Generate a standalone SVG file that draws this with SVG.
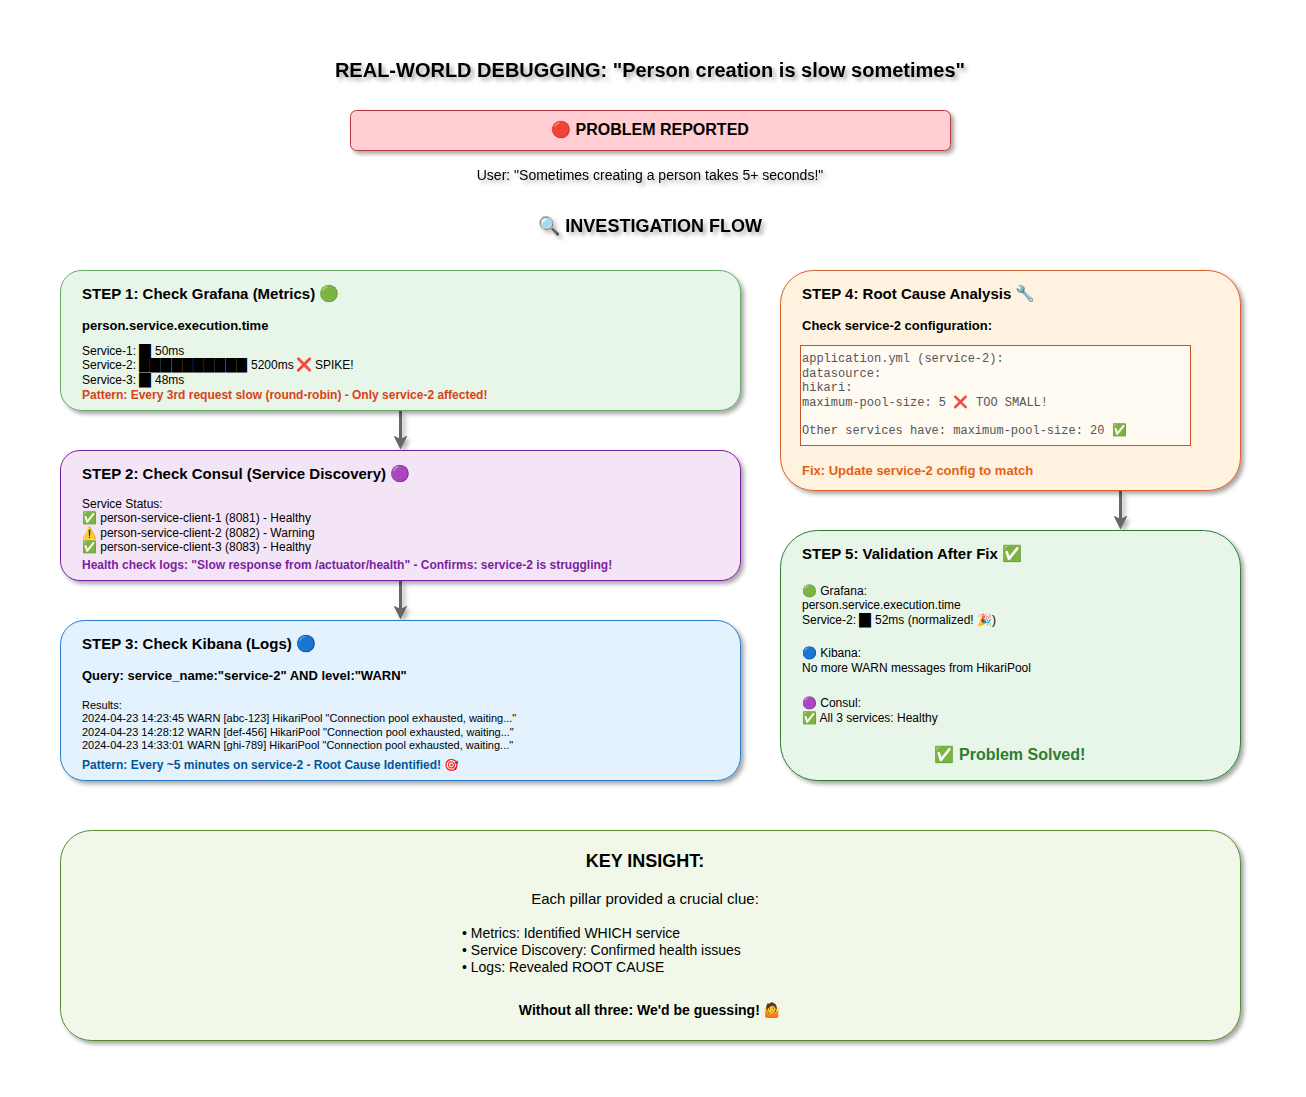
<svg xmlns="http://www.w3.org/2000/svg" width="1306" height="1097" viewBox="0 0 1306 1097">
<defs>
<filter id="sh" x="-5%" y="-10%" width="112%" height="125%"><feDropShadow dx="3" dy="3" stdDeviation="2" flood-color="#000" flood-opacity="0.35"/></filter>
<filter id="ts" x="-5%" y="-50%" width="110%" height="220%"><feDropShadow dx="3" dy="3" stdDeviation="2" flood-color="#000" flood-opacity="0.35"/></filter>
<filter id="cs" filterUnits="userSpaceOnUse" x="0" y="0" width="1306" height="1097"><feDropShadow dx="3" dy="3" stdDeviation="2" flood-color="#000" flood-opacity="0.3"/></filter>
<marker id="ah" viewBox="0 0 14 14" refX="3.5" refY="7" markerWidth="14" markerHeight="14" markerUnits="userSpaceOnUse" orient="auto"><path d="M0 0L14 7L0 14L3.500 7Z" fill="#666"/></marker>
</defs>
<style>
text{font-family:"Liberation Sans",Arial,"Noto Color Emoji",sans-serif;fill:#000}
.b{font-weight:bold}
.t{font-size:15px;font-weight:bold}
.e{font-size:16px}
.e2{font-size:13px}
.h{font-size:13px;font-weight:bold}
.s{font-size:12px}
.r{font-size:11px}
.m{font-family:"Liberation Mono","Courier New",monospace,"Noto Color Emoji";font-size:12px;fill:#555}
.c{text-anchor:middle}
.k{font-size:14px}
.card{filter:url(#sh);stroke-width:1}
.conn{stroke:#666;stroke-width:3;fill:none;marker-end:url(#ah)}
</style>
<rect width="1306" height="1097" fill="#fff"/>
<g id="header">
<text x="650" y="77" class="c b" font-size="20" filter="url(#ts)">REAL-WORLD DEBUGGING: "Person creation is slow sometimes"</text>
<text x="650" y="180" class="c k" filter="url(#ts)">User: "Sometimes creating a person takes 5+ seconds!"</text>
<text x="650" y="232" class="c b" font-size="18" filter="url(#ts)">🔍 INVESTIGATION FLOW</text>
</g>
<g id="problem">
<rect class="card" x="350.500" y="110.500" width="600" height="40" rx="6" fill="#ffcdd2" stroke="#b5383c"/>
<text x="650" y="135" class="c" font-size="16" font-weight="bold">🔴 PROBLEM REPORTED</text>
</g>
<g id="connectors" filter="url(#cs)">
<path class="conn" d="M400.500 411V439"/>
<path class="conn" d="M400.500 581V609"/>
<path class="conn" d="M1120.500 491V519"/>
</g>
<g id="step1">
<rect class="card" x="60.500" y="270.500" width="680" height="140" rx="21" fill="#e8f5e9" stroke="#66aa66"/>
<text x="82" y="299" class="t">STEP 1: Check Grafana (Metrics) <tspan class="e" x="319">🟢</tspan></text>
<text x="82" y="330" class="h">person.service.execution.time</text>
<text x="82" y="355" class="s">Service-1:</text>
<text x="139" y="355" class="s" textLength="12" lengthAdjust="spacingAndGlyphs">█</text>
<text x="155" y="355" class="s">50ms</text>
<text x="82" y="369" class="s">Service-2:</text>
<text x="139" y="369" class="s" textLength="108" lengthAdjust="spacingAndGlyphs">██████████</text>
<text x="251" y="369" class="s">5200ms<tspan class="e2" x="296.500">❌</tspan><tspan x="315">SPIKE!</tspan></text>
<text x="82" y="384" class="s">Service-3:</text>
<text x="139" y="384" class="s" textLength="12" lengthAdjust="spacingAndGlyphs">█</text>
<text x="155" y="384" class="s">48ms</text>
<text x="82" y="399" class="s b" style="fill:#d84315">Pattern: Every 3rd request slow (round-robin) - Only service-2 affected!</text>
</g>
<g id="step2">
<rect class="card" x="60.500" y="450.500" width="680" height="130" rx="19.500" fill="#f3e5f5" stroke="#7b1fa2"/>
<text x="82" y="479" class="t">STEP 2: Check Consul (Service Discovery) <tspan class="e" x="390">🟣</tspan></text>
<text x="82" y="508" class="s">Service Status:</text>
<text x="82" y="522" class="s">✅ person-service-client-1 (8081) - Healthy</text>
<text x="82" y="537" class="s">⚠️ person-service-client-2 (8082) - Warning</text>
<text x="82" y="551" class="s">✅ person-service-client-3 (8083) - Healthy</text>
<text x="82" y="569" class="s b" style="fill:#7b1fa2">Health check logs: "Slow response from /actuator/health" - Confirms: service-2 is struggling!</text>
</g>
<g id="step3">
<rect class="card" x="60.500" y="620.500" width="680" height="160" rx="24" fill="#e3f2fd" stroke="#2a7bc8"/>
<text x="82" y="649" class="t">STEP 3: Check Kibana (Logs) <tspan class="e" x="296">🔵</tspan></text>
<text x="82" y="680" class="h">Query: service_name:"service-2" AND level:"WARN"</text>
<text x="82" y="709" class="r">Results:</text>
<text x="82" y="722" class="r">2024-04-23 14:23:45 WARN [abc-123] HikariPool "Connection pool exhausted, waiting..."</text>
<text x="82" y="736" class="r">2024-04-23 14:28:12 WARN [def-456] HikariPool "Connection pool exhausted, waiting..."</text>
<text x="82" y="749" class="r">2024-04-23 14:33:01 WARN [ghi-789] HikariPool "Connection pool exhausted, waiting..."</text>
<text x="82" y="769" class="s b" style="fill:#01579b">Pattern: Every ~5 minutes on service-2 - Root Cause Identified! 🎯</text>
</g>
<g id="step4">
<rect class="card" x="780.500" y="270.500" width="460" height="220" rx="33" fill="#fff3e0" stroke="#d2622a"/>
<text x="802" y="299" class="t">STEP 4: Root Cause Analysis <tspan class="e" x="1015">🔧</tspan></text>
<text x="802" y="330" class="h">Check service-2 configuration:</text>
<rect x="800.500" y="345.500" width="390" height="100" fill="#fffaf2" stroke="#c8502a"/>
<text x="802" y="362" class="m">application.yml (service-2):</text>
<text x="802" y="377" class="m">datasource:</text>
<text x="802" y="391" class="m">hikari:</text>
<text x="802" y="406" class="m">maximum-pool-size: 5 <tspan x="953">❌</tspan><tspan x="976">TOO SMALL!</tspan></text>
<text x="802" y="434" class="m">Other services have: maximum-pool-size: 20 <tspan x="1112">✅</tspan></text>
<text x="802" y="475" class="h" style="fill:#e2611a">Fix: Update service-2 config to match</text>
</g>
<g id="step5">
<rect class="card" x="780.500" y="530.500" width="460" height="250" rx="37" fill="#e8f5e9" stroke="#2e7d32"/>
<text x="802" y="559" class="t">STEP 5: Validation After Fix <tspan class="e" x="1002">✅</tspan></text>
<text x="802" y="595" class="s">🟢 Grafana:</text>
<text x="802" y="609" class="s">person.service.execution.time</text>
<text x="802" y="624" class="s">Service-2:</text>
<text x="859" y="624" class="s" textLength="12" lengthAdjust="spacingAndGlyphs">█</text>
<text x="875" y="624" class="s">52ms (normalized! 🎉)</text>
<text x="802" y="657" class="s">🔵 Kibana:</text>
<text x="802" y="672" class="s">No more WARN messages from HikariPool</text>
<text x="802" y="707" class="s">🟣 Consul:</text>
<text x="802" y="722" class="s">✅ All 3 services: Healthy</text>
<text x="1010" y="760" class="c" font-size="16" font-weight="bold" style="fill:#2e7d32">✅ Problem Solved!</text>
</g>
<g id="insight">
<rect class="card" x="60.500" y="830.500" width="1180" height="210" rx="31" fill="#f1f8e9" stroke="#558b2f"/>
<text x="645" y="867" class="c b" font-size="18">KEY INSIGHT:</text>
<text x="645" y="904" class="c" font-size="15">Each pillar provided a crucial clue:</text>
<text x="462" y="938" class="k">• Metrics: Identified WHICH service</text>
<text x="462" y="955" class="k">• Service Discovery: Confirmed health issues</text>
<text x="462" y="972" class="k">• Logs: Revealed ROOT CAUSE</text>
<text x="650" y="1015" class="c k b">Without all three: We'd be guessing! 🤷</text>
</g>
</svg>
